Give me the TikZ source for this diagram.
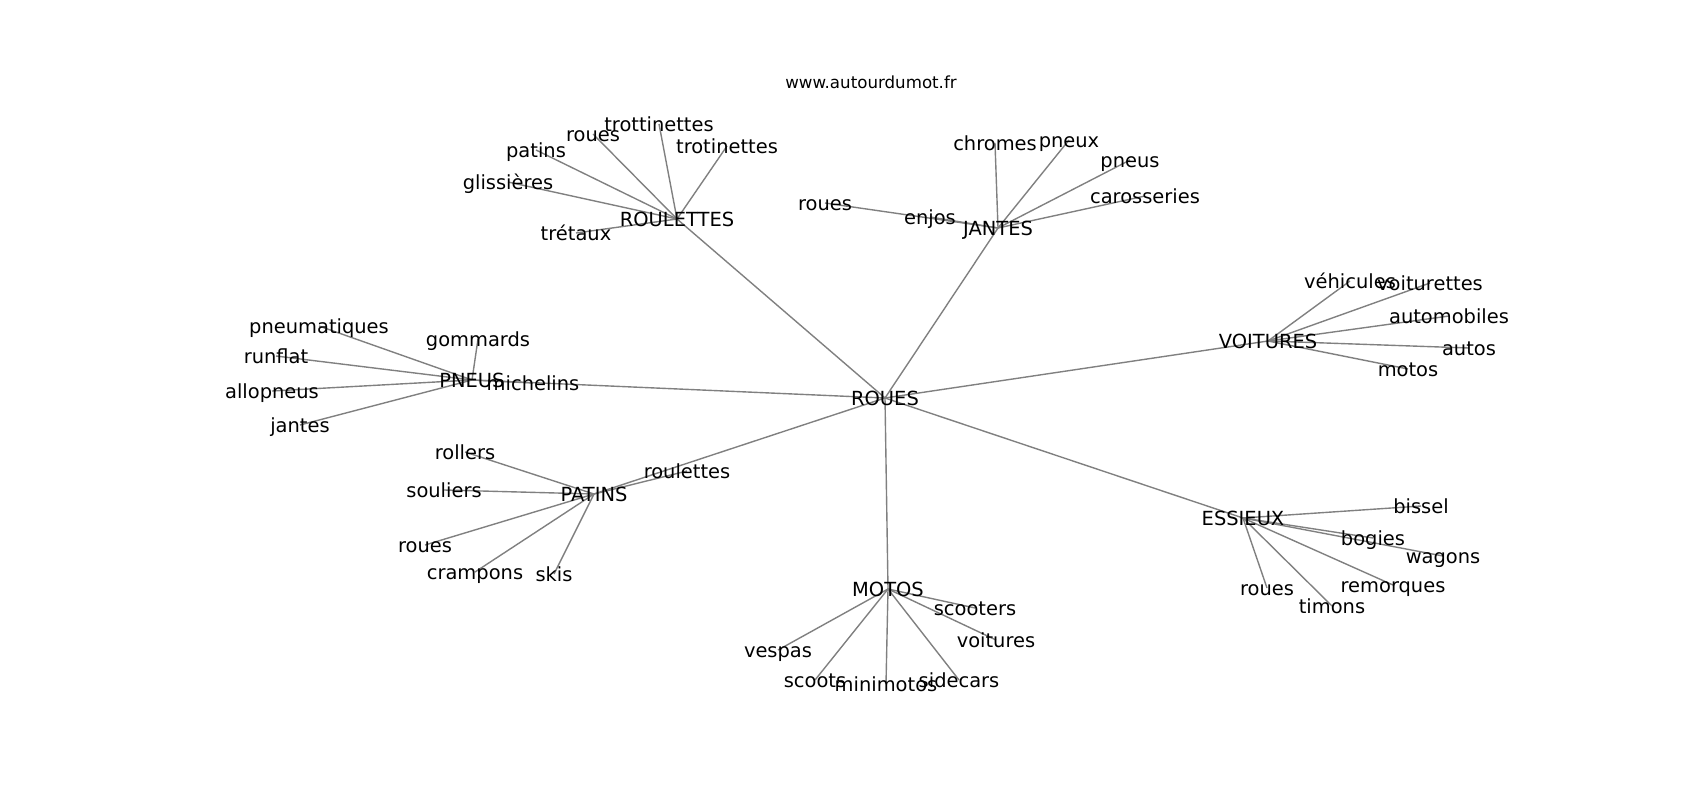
\documentclass[tikz,border=0pt]{standalone}
\usepackage{fontspec}
\setmainfont{DejaVu Sans}
\usetikzlibrary{backgrounds}
\tikzset{
  lbl/.style={inner sep=0pt, anchor=center, font=\fontsize{14}{16}\selectfont, text height=13.6pt, text depth=3.3pt},
  ttl/.style={inner sep=0pt, anchor=center, font=\fontsize{12}{14}\selectfont},
  edge/.style={draw=gray, line width=1pt}
}
\begin{document}
\begin{tikzpicture}[x=0.72pt, y=-0.72pt]
\useasboundingbox (0,0) rectangle (1700,800);
\node[ttl] (title) at (871,82) {www.autourdumot.fr};
% hubs
\node[lbl] (roues) at (885,398) {ROUES};
\node[lbl] (roulettesH) at (677,219) {ROULETTES};
\node[lbl] (jantesH) at (998,228) {JANTES};
\node[lbl] (pneusH) at (472,380) {PNEUS};
\node[lbl] (patinsH) at (594,494) {PATINS};
\node[lbl] (voituresH) at (1268,341) {VOITURES};
\node[lbl] (essieuxH) at (1243,518) {ESSIEUX};
\node[lbl] (motosH) at (888,589) {MOTOS};
% ROULETTES leaves
\node[lbl] (tretaux) at (576,233) {trétaux};
\node[lbl] (glissieres) at (508,182) {glissières};
\node[lbl] (patins) at (536,150) {patins};
\node[lbl] (rouesA) at (593,134) {roues};
\node[lbl] (trottinettes) at (659,124) {trottinettes};
\node[lbl] (trotinettes) at (727,146) {trotinettes};
% JANTES leaves
\node[lbl] (rouesB) at (825,203) {roues};
\node[lbl] (enjos) at (930,217) {enjos};
\node[lbl] (chromes) at (995,143) {chromes};
\node[lbl] (pneux) at (1069,140) {pneux};
\node[lbl] (pneus) at (1130,160) {pneus};
\node[lbl] (carosseries) at (1145,196) {carosseries};
% PNEUS leaves
\node[lbl] (pneumatiques) at (319,326) {pneumatiques};
\node[lbl] (runflat) at (276,356) {runflat};
\node[lbl] (allopneus) at (272,391) {allopneus};
\node[lbl] (jantes) at (300,425) {jantes};
\node[lbl] (gommards) at (478,339) {gommards};
\node[lbl] (michelins) at (533,383) {michelins};
% PATINS leaves
\node[lbl] (rollers) at (465,452) {rollers};
\node[lbl] (souliers) at (444,490) {souliers};
\node[lbl] (rouesC) at (425,545) {roues};
\node[lbl] (crampons) at (475,572) {crampons};
\node[lbl] (skis) at (554,574) {skis};
\node[lbl] (roulettes) at (687,471) {roulettes};
% VOITURES leaves
\node[lbl] (vehicules) at (1350,281) {véhicules};
\node[lbl] (voiturettes) at (1430,283) {voiturettes};
\node[lbl] (automobiles) at (1449,316) {automobiles};
\node[lbl] (autos) at (1469,348) {autos};
\node[lbl] (motos) at (1408,369) {motos};
% ESSIEUX leaves
\node[lbl] (bissel) at (1421,506) {bissel};
\node[lbl] (bogies) at (1373,538) {bogies};
\node[lbl] (wagons) at (1443,556) {wagons};
\node[lbl] (remorques) at (1393,585) {remorques};
\node[lbl] (timons) at (1332,606) {timons};
\node[lbl] (rouesD) at (1267,588) {roues};
% MOTOS leaves
\node[lbl] (scooters) at (975,608) {scooters};
\node[lbl] (voitures) at (996,640) {voitures};
\node[lbl] (vespas) at (778,650) {vespas};
\node[lbl] (scoots) at (815,680) {scoots};
\node[lbl] (minimotos) at (886,684) {minimotos};
\node[lbl] (sidecars) at (959,680) {sidecars};
\begin{scope}[on background layer]
\fill[white] (0,0) rectangle (1700,800);
\foreach \h in {roulettesH,jantesH,pneusH,patinsH,voituresH,essieuxH,motosH}
  \draw[edge] (roues.center) -- (\h.center);
\foreach \l in {tretaux,glissieres,patins,rouesA,trottinettes,trotinettes}
  \draw[edge] (roulettesH.center) -- (\l.center);
\foreach \l in {rouesB,enjos,chromes,pneux,pneus,carosseries}
  \draw[edge] (jantesH.center) -- (\l.center);
\foreach \l in {pneumatiques,runflat,allopneus,jantes,gommards,michelins}
  \draw[edge] (pneusH.center) -- (\l.center);
\foreach \l in {rollers,souliers,rouesC,crampons,skis,roulettes}
  \draw[edge] (patinsH.center) -- (\l.center);
\foreach \l in {vehicules,voiturettes,automobiles,autos,motos}
  \draw[edge] (voituresH.center) -- (\l.center);
\foreach \l in {bissel,bogies,wagons,remorques,timons,rouesD}
  \draw[edge] (essieuxH.center) -- (\l.center);
\foreach \l in {scooters,voitures,vespas,scoots,minimotos,sidecars}
  \draw[edge] (motosH.center) -- (\l.center);
\end{scope}
\end{tikzpicture}
\end{document}
